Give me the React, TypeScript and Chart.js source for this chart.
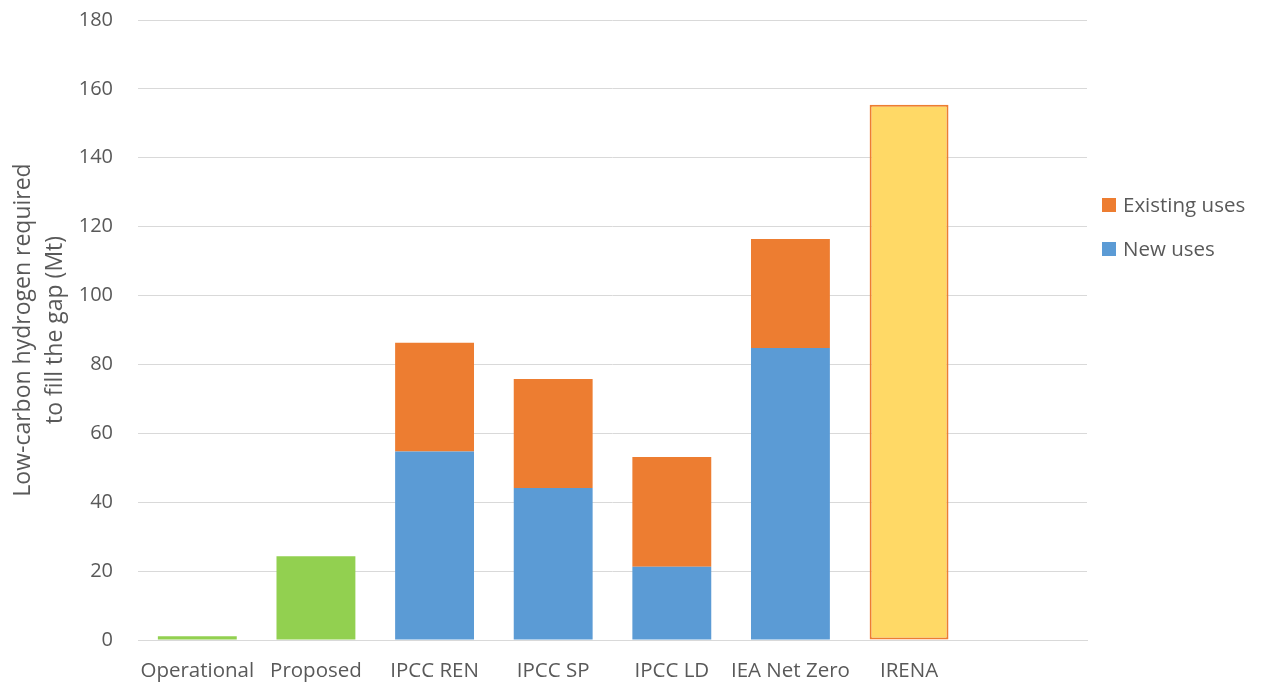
import React, { useEffect, useRef } from "react";
import { Chart, registerables } from "chart.js";

Chart.register(...registerables);

const categories = ["Operational", "Proposed", "IPCC REN", "IPCC SP", "IPCC LD", "IEA Net Zero", "IRENA", ""];
const pipelineValues = [1.1, 24.3, null, null, null, null, null, null];
const newUses = [null, null, 54.7, 44.1, 21.3, 84.8, null, null];
const existingUses = [null, null, 31.6, 31.7, 31.8, 31.6, null, null];
const irenaValues = [null, null, null, null, null, null, 155.4, null];
const yTicks = [0, 20, 40, 60, 80, 100, 120, 140, 160, 180];
const yTitle = ["Low-carbon hydrogen required", "to fill the gap (Mt)"];
const legendItems = [
  { label: "Existing uses", color: "#ED7D31" },
  { label: "New uses", color: "#5B9BD5" },
];

const TEXT = "#595959";
const FONT = "'Open Sans', 'Noto Sans', sans-serif";

const legendPlugin = {
  id: "sideLegend",
  afterDraw(chart: any) {
    const ctx = chart.ctx;
    ctx.save();
    ctx.font = `20.5px ${FONT}`;
    ctx.textBaseline = "middle";
    ctx.textAlign = "left";
    legendItems.forEach((it, i) => {
      const cy = 205 + i * 44;
      ctx.fillStyle = it.color;
      ctx.fillRect(1102, cy - 7, 14, 14);
      ctx.fillStyle = TEXT;
      ctx.fillText(it.label, 1123, cy + 1);
    });
    ctx.restore();
  },
};

export default function App() {
  const ref = useRef<HTMLCanvasElement>(null);
  useEffect(() => {
    if (!ref.current) return;
    const chart = new Chart(ref.current, {
      type: "bar",
      data: {
        labels: categories,
        datasets: [
          { label: "Pipeline", data: pipelineValues as any, backgroundColor: "#92D050" },
          { label: "New uses", data: newUses as any, backgroundColor: "#5B9BD5" },
          { label: "Existing uses", data: existingUses as any, backgroundColor: "#ED7D31" },
          {
            label: "IRENA",
            data: irenaValues as any,
            backgroundColor: "#FFD966",
            borderColor: "#ED7D31",
            borderWidth: 2,
            borderSkipped: false,
          },
        ],
      },
      options: {
        animation: false,
        responsive: true,
        maintainAspectRatio: false,
        layout: { padding: { top: 20, right: 175, bottom: 0, left: 0 } },
        plugins: { legend: { display: false }, tooltip: { enabled: false } },
        datasets: { bar: { categoryPercentage: 1, barPercentage: 0.665 } },
        scales: {
          x: {
            stacked: true,
            grid: { display: false, drawTicks: false },
            border: { display: true, color: "#D9D9D9" },
            ticks: { color: TEXT, font: { family: FONT, size: 20.5 }, padding: 19, maxRotation: 0, autoSkip: false },
            afterFit: (s: any) => { s.height = 43; s.paddingLeft = 0; s.paddingRight = 0; },
          },
          y: {
            stacked: true,
            min: 0,
            max: 180,
            afterBuildTicks: (s: any) => { s.ticks = yTicks.map((v) => ({ value: v })); },
            grid: { color: "#D9D9D9", drawTicks: false, lineWidth: 1 },
            border: { display: false },
            ticks: { color: TEXT, font: { family: FONT, size: 20 }, padding: 25 },
            title: {
              display: true,
              text: yTitle,
              color: TEXT,
              font: { family: FONT, size: 23, lineHeight: 1.4 },
              padding: { top: 7, bottom: 0 },
            },
            afterFit: (s: any) => { s.width = 138; s.paddingTop = 0; s.paddingBottom = 0; },
          },
        },
      },
      plugins: [legendPlugin],
    });
    return () => chart.destroy();
  }, []);
  return (
    <div style={{ position: "fixed", left: 0, top: 0, width: 1262, height: 683, background: "#fff" }}>
      <canvas ref={ref} />
    </div>
  );
}
